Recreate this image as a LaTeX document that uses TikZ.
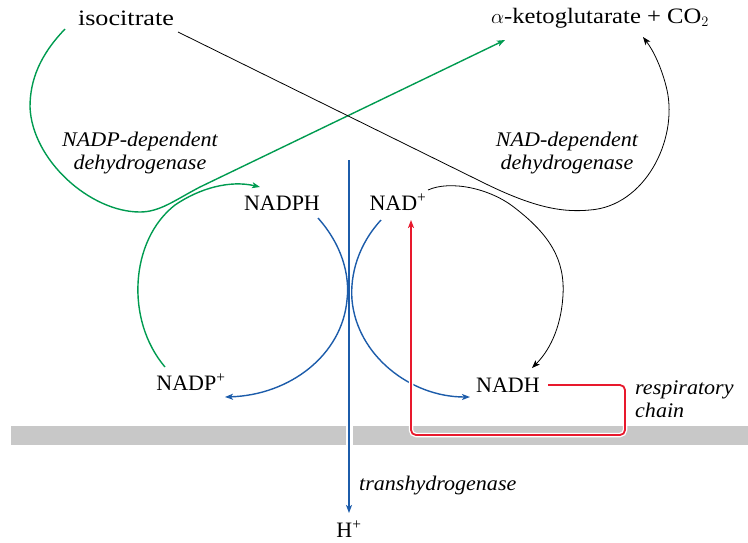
\documentclass[tikz,border=0pt]{standalone}
\usepackage{fontspec}
\setmainfont{Liberation Serif}
\newfontfamily\widefont[FakeStretch=1.19]{Liberation Serif}
\newfontfamily\midfont[FakeStretch=1.12]{Liberation Serif}
\newfontfamily\itfont[FakeStretch=1.06]{Liberation Serif Italic}
\usetikzlibrary{arrows.meta}
\definecolor{grn}{RGB}{0,155,80}
\definecolor{blu}{RGB}{28,92,170}
\definecolor{redc}{RGB}{232,25,45}
\definecolor{memb}{RGB}{200,200,200}
\tikzset{
  lbl/.style={font=\fontsize{22}{24}\selectfont, inner sep=0pt},
  wlbl/.style={font=\fontsize{22}{24}\selectfont\widefont, inner sep=0pt},
  mlbl/.style={font=\fontsize{22}{24}\selectfont\midfont, inner sep=0pt},
  enz/.style={font=\fontsize{20.8}{22.5}\selectfont\itfont, inner sep=0pt},
  tipb/.style={-{Stealth[length=8pt,width=6pt,inset=2pt]}},
  grnline/.style={draw=grn, line width=1.4pt, tipb},
  bluline/.style={draw=blu, line width=1.4pt, tipb},
  blkline/.style={draw=black, line width=0.8pt, tipb},
  redline/.style={draw=redc, line width=1.8pt, rounded corners=5pt, tipb,
     preaction={draw=white, line width=4.5pt, -}},
}
\begin{document}
\begin{tikzpicture}[x=1pt,y=-1pt]
\useasboundingbox (0,0) rectangle (748,542);
% membrane
\fill[memb] (11,426) rectangle (346,445);
\fill[memb] (353,426) rectangle (748,445);

% labels
\node[wlbl] (iso) at (126,18) {isocitrate};
\node[mlbl] (akg) at (600,18) {$\alpha$-ketoglutarate + CO$_2$};
\node[lbl] (nadph) at (282,203) {NADPH};
\node[lbl] (nadp) at (191,382) {NADP\textsuperscript{+}};
\node[lbl] (nad) at (398,202) {NAD\textsuperscript{+}};
\node[lbl] (nadh) at (508,385) {NADH};
\node[lbl] (hplus) at (349,529) {H\textsuperscript{+}};
\node[enz, align=center] (nadpdh) at (140,153) {NADP-dependent\\dehydrogenase};
\node[enz, align=center] (naddh) at (567,153) {NAD-dependent\\dehydrogenase};
\node[enz, align=left, anchor=west] (resp) at (635,399) {respiratory\\chain};
\node[enz, anchor=west] (trans) at (359,486) {transhydrogenase};

% coordinates for connector ends
\coordinate (isoL) at (65,29);
\coordinate (isoR) at (178,32);
\coordinate (akgL) at (505,40);
\coordinate (akgR) at (643,37);
\coordinate (nadphIn) at (260,187);
\coordinate (nadphOut) at (318,218);
\coordinate (nadpOut) at (165,367);
\coordinate (nadpIn) at (225,397);
\coordinate (nadOut) at (428,190);
\coordinate (nadOutB) at (381,220);
\coordinate (nadIn) at (411,220);
\coordinate (nadhIn) at (532,368);
\coordinate (nadhInB) at (470,397);
\coordinate (nadhOut) at (548,385);
\coordinate (transTop) at (349,160);
\coordinate (transBot) at (349,513);

% green: NADP-dependent
\draw[grnline] (isoL) .. controls (40,55) and (30,80) .. (30,107)
   .. controls (32,160) and (90,212) .. (140,212)
   .. controls (160,212) and (175,200) .. (200,187) -- (akgL);
\draw[grnline] (nadpOut) .. controls (125,320) and (130,240) .. (175,205)
   .. controls (200,188) and (230,180) .. (nadphIn);

% black: NAD-dependent
\draw[blkline] (isoR) -- (480,181) .. controls (530,206) and (560,213) .. (590,210)
   .. controls (645,206) and (678,140) .. (667,90)
   .. controls (662,68) and (653,50) .. (akgR);
\draw[blkline] (nadOut) .. controls (450,180) and (490,188) .. (515,208)
   .. controls (550,235) and (565,260) .. (563,295)
   .. controls (561,330) and (548,352) .. (nadhIn);

% blue: transhydrogenase
\draw[bluline] (nadphOut) .. controls (342,245) and (350,275) .. (347,300)
   .. controls (342,355) and (290,395) .. (nadpIn);
\draw[bluline] (nadOutB) .. controls (358,245) and (350,275) .. (352,300)
   .. controls (357,355) and (410,397) .. (nadhInB);
\draw[bluline] (transTop) -- (transBot);

% red: respiratory chain
\draw[redline] (nadhOut) -- (625,385) -- (625,435) -- (411,435) -- (nadIn);
\end{tikzpicture}
\end{document}
